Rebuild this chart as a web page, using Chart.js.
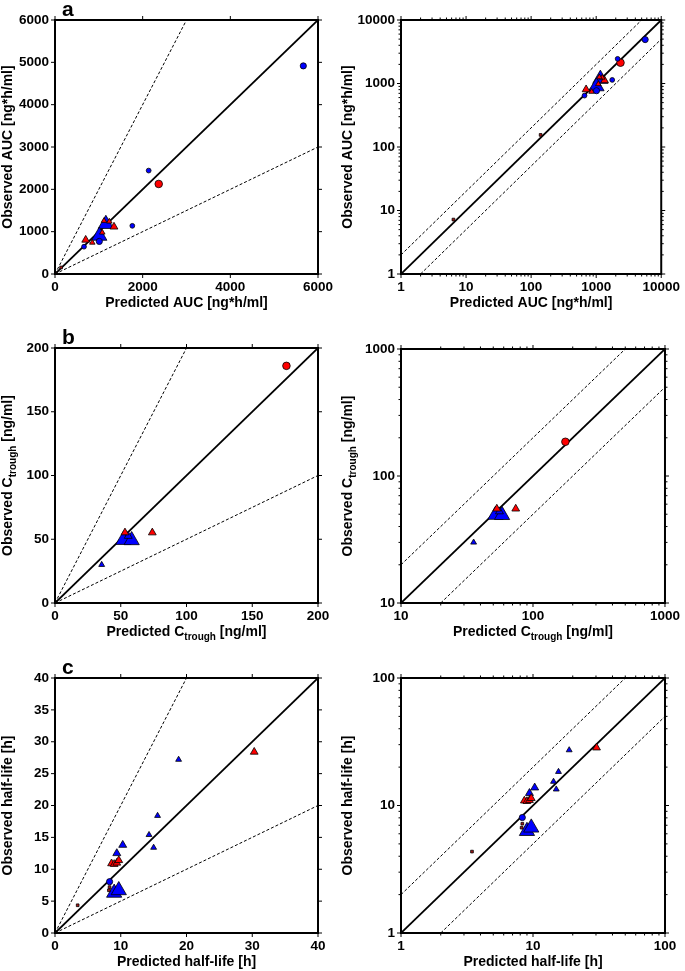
<!DOCTYPE html>
<html>
<head>
<meta charset="utf-8">
<script src="https://cdn.jsdelivr.net/npm/chart.js@4.4.1/dist/chart.umd.min.js"></script>
<style>
  html, body { margin: 0; padding: 0; background: #fff; }
  #wrap { position: relative; width: 685px; height: 971px; overflow: hidden; background: #fff; }
  #wrap canvas { position: absolute; }
</style>
</head>
<body>
<div id="wrap"></div>
<script>
// ---- values ----

// a: AUC [ng*h/ml]
const aucPredicted = [5665, 2137, 2366, 1764, 1160, 1346, 1239, 1118, 1011, 1011, 1079, 700, 851, 662, 6.4, 140];
const aucObserved  = [4916, 2443, 2127, 1138, 1180, 1115, 1240, 1257,  901,  770,  980, 805, 742, 645, 7.2, 155];
const aucGroup     = ['bcM', 'bcS', 'rcM', 'bcS', 'btL', 'rtM', 'rtS', 'rtS', 'btL', 'bcM', 'rtS', 'rtM', 'rtS', 'bcS', 'rdS', 'rdS'];

// b: Ctrough [ng/ml]
const ctroughPredicted = [176, 53.2, 74, 55.7, 52, 58.3, 35.5];
const ctroughObserved  = [186, 55.2, 55.2, 52.5, 49.4, 49.2, 30];
const ctroughGroup     = ['rcM', 'rtM', 'rtM', 'btM', 'btL', 'btL', 'btS'];

// c: half-life [h]
const halfLifePredicted = [30.3, 18.8, 15.6, 14.3, 15.0, 10.3, 9.4, 8.6, 9.0, 9.4, 9.7, 8.3, 8.3, 8.2, 9.0, 9.7, 3.45];
const halfLifeObserved  = [28.4, 27.2, 18.4, 15.4, 13.4, 13.8, 12.5, 10.9, 10.8, 11.0, 11.4, 8.05, 7.2, 6.7, 6.3, 6.7, 4.35];
const halfLifeGroup     = ['rtM', 'btS', 'btS', 'btS', 'btS', 'btM', 'btM', 'rtM', 'rtM', 'rtM', 'rtM', 'bcM', 'rdS', 'rdS', 'btL', 'btL', 'rdS'];

// tick labels
const aucTicksX = [0, 2000, 4000, 6000];
const aucTicksY = [0, 1000, 2000, 3000, 4000, 5000, 6000];
const aucLogTicks = [1, 10, 100, 1000, 10000];
const ctroughTicks = [0, 50, 100, 150, 200];
const ctroughLogTicks = [10, 100, 1000];
const halfLifeTicksX = [0, 10, 20, 30, 40];
const halfLifeTicksY = [0, 5, 10, 15, 20, 25, 30, 35, 40];
const halfLifeLogTicks = [1, 10, 100];

// axis titles (sub = subscript part)
const aucXTitle = [{ t: 'Predicted AUC [ng*h/ml]' }];
const aucYTitle = [{ t: 'Observed AUC [ng*h/ml]' }];
const ctroughXTitle = [{ t: 'Predicted C' }, { t: 'trough', sub: true }, { t: ' [ng/ml]' }];
const ctroughYTitle = [{ t: 'Observed C' }, { t: 'trough', sub: true }, { t: ' [ng/ml]' }];
const halfLifeXTitle = [{ t: 'Predicted half-life [h]' }];
const halfLifeYTitle = [{ t: 'Observed half-life [h]' }];

// marker look per group
const MARKERS = {
  bcS: { color: '#0000ff', shape: 'circle',   r: 2.4 },
  bcM: { color: '#0000ff', shape: 'circle',   r: 3.1 },
  rcM: { color: '#ff0000', shape: 'circle',   r: 3.8 },
  btS: { color: '#0000ff', shape: 'triangle', r: 3.4 },
  btM: { color: '#0000ff', shape: 'triangle', r: 4.6 },
  btL: { color: '#0000ff', shape: 'triangle', r: 8.8 },
  rtS: { color: '#ff0000', shape: 'triangle', r: 3.2 },
  rtM: { color: '#ff0000', shape: 'triangle', r: 4.5 },
  rdS: { color: '#a81818', shape: 'rect',     r: 1.9 }
};

const FONT = "'Liberation Sans', Arial, sans-serif";

function drawTitle(ctx, parts, x, y, rotate) {
  ctx.save();
  ctx.translate(x, y);
  if (rotate) ctx.rotate(-Math.PI / 2);
  ctx.textBaseline = 'middle';
  ctx.textAlign = 'left';
  ctx.fillStyle = '#000';
  const fontOf = p => p.sub ? 'bold 10px ' + FONT : 'bold 14px ' + FONT;
  let total = 0;
  parts.forEach(p => { ctx.font = fontOf(p); total += ctx.measureText(p.t).width; });
  let cx = -total / 2;
  parts.forEach(p => {
    ctx.font = fontOf(p);
    ctx.fillText(p.t, cx, p.sub ? 5 : 0);
    cx += ctx.measureText(p.t).width;
  });
  ctx.restore();
}

// frame, ticks on all four sides, titles, panel letter
const framePlugin = {
  id: 'frame',
  afterDraw(chart, args, opts) {
    const { ctx, chartArea: a } = chart;
    const xs = chart.scales.x, ys = chart.scales.y;
    ctx.save();
    ctx.strokeStyle = '#000';

    const marks = (scale) => {
      const major = scale.ticks.map(t => t.value);
      const minor = [];
      if (scale.type === 'logarithmic') {
        for (let d = scale.min; d < scale.max; d *= 10) {
          for (let k = 2; k <= 9; k++) minor.push(k * d);
        }
      }
      return { major, minor };
    };

    ctx.lineWidth = 1;
    const mx = marks(xs), my = marks(ys);
    const tickX = (v, len) => {
      const p = xs.getPixelForValue(v);
      ctx.beginPath();
      ctx.moveTo(p, a.bottom); ctx.lineTo(p, a.bottom + len);
      ctx.moveTo(p, a.top); ctx.lineTo(p, a.top - len);
      ctx.stroke();
    };
    const tickY = (v, len) => {
      const p = ys.getPixelForValue(v);
      ctx.beginPath();
      ctx.moveTo(a.left, p); ctx.lineTo(a.left - len, p);
      ctx.moveTo(a.right, p); ctx.lineTo(a.right + len, p);
      ctx.stroke();
    };
    mx.major.forEach(v => tickX(v, 4));
    mx.minor.forEach(v => tickX(v, 2.5));
    my.major.forEach(v => tickY(v, 4));
    my.minor.forEach(v => tickY(v, 2.5));

    ctx.lineWidth = 2;
    ctx.strokeRect(a.left, a.top, a.right - a.left, a.bottom - a.top);

    drawTitle(ctx, opts.xTitle, (a.left + a.right) / 2, a.bottom + 29, false);
    drawTitle(ctx, opts.yTitle, 8, (a.top + a.bottom) / 2, true);

    if (opts.letter) {
      ctx.font = 'bold 21px ' + FONT;
      ctx.fillStyle = '#000';
      ctx.textAlign = 'left';
      ctx.textBaseline = 'alphabetic';
      ctx.fillText(opts.letter, a.left + 7, a.top - 4);
    }
    ctx.restore();
  }
};

const PANELS = [
  { left: 0,   top: 0,   w: 340, h: 330, area: [55, 318, 20, 274], log: false,
    xTicks: aucTicksX, yTicks: aucTicksY, pred: aucPredicted, obs: aucObserved, group: aucGroup,
    letter: 'a', xTitle: aucXTitle, yTitle: aucYTitle },
  { left: 340, top: 0,   w: 345, h: 330, area: [61, 325, 20, 274], log: true,
    xTicks: aucLogTicks, yTicks: aucLogTicks, pred: aucPredicted, obs: aucObserved, group: aucGroup,
    letter: '', xTitle: aucXTitle, yTitle: aucYTitle },
  { left: 0,   top: 310, w: 340, h: 340, area: [55, 318, 38, 293], log: false,
    xTicks: ctroughTicks, yTicks: ctroughTicks, pred: ctroughPredicted, obs: ctroughObserved, group: ctroughGroup,
    letter: 'b', xTitle: ctroughXTitle, yTitle: ctroughYTitle },
  { left: 340, top: 310, w: 345, h: 340, area: [61, 325, 39, 293], log: true,
    xTicks: ctroughLogTicks, yTicks: ctroughLogTicks, pred: ctroughPredicted, obs: ctroughObserved, group: ctroughGroup,
    letter: '', xTitle: ctroughXTitle, yTitle: ctroughYTitle },
  { left: 0,   top: 640, w: 340, h: 331, area: [55, 318, 38, 293], log: false,
    xTicks: halfLifeTicksX, yTicks: halfLifeTicksY, pred: halfLifePredicted, obs: halfLifeObserved, group: halfLifeGroup,
    letter: 'c', xTitle: halfLifeXTitle, yTitle: halfLifeYTitle },
  { left: 340, top: 640, w: 345, h: 331, area: [61, 325, 38, 293], log: true,
    xTicks: halfLifeLogTicks, yTicks: halfLifeLogTicks, pred: halfLifePredicted, obs: halfLifeObserved, group: halfLifeGroup,
    letter: '', xTitle: halfLifeXTitle, yTitle: halfLifeYTitle }
];

function buildDatasets(p) {
  const sets = [];
  Object.keys(MARKERS).forEach(key => {
    const pts = [];
    p.group.forEach((g, i) => { if (g === key) pts.push({ x: p.pred[i], y: p.obs[i] }); });
    if (!pts.length) return;
    const m = MARKERS[key];
    sets.push({
      data: pts,
      pointStyle: m.shape,
      pointRadius: m.r,
      pointHoverRadius: m.r,
      pointBackgroundColor: m.color,
      pointBorderColor: '#000',
      pointBorderWidth: 0.8,
      showLine: false,
      order: m.r
    });
  });
  // unity line and two-fold lines
  const lo = p.xTicks[0], hi = p.xTicks[p.xTicks.length - 1];
  const line = (data, dash, width) => ({
    data, showLine: true, pointRadius: 0, pointHoverRadius: 0,
    borderColor: '#000', borderWidth: width, borderDash: dash, order: 100
  });
  sets.push(line([{ x: lo, y: lo }, { x: hi, y: hi }], [], 1.8));
  sets.push(line([{ x: lo, y: 2 * lo }, { x: hi / 2, y: hi }], [3, 2], 1));
  sets.push(line([{ x: 2 * lo, y: lo }, { x: hi, y: hi / 2 }], [3, 2], 1));
  return sets;
}

function axis(p, ticks, isX) {
  const [l, r, t, b] = p.area;
  return {
    type: p.log ? 'logarithmic' : 'linear',
    position: isX ? 'bottom' : 'left',
    min: ticks[0],
    max: ticks[ticks.length - 1],
    grid: { display: false, drawTicks: false },
    border: { display: false },
    afterBuildTicks: s => { s.ticks = ticks.map(v => ({ value: v })); },
    afterFit: s => { if (isX) s.height = p.h - b; else s.width = l; },
    ticks: {
      color: '#000',
      font: { family: FONT, size: 13.5, weight: 'bold' },
      padding: isX ? 5 : 6,
      maxRotation: 0,
      autoSkip: false,
      callback: v => String(v)
    }
  };
}

const wrap = document.getElementById('wrap');
PANELS.forEach(p => {
  const cv = document.createElement('canvas');
  cv.width = p.w; cv.height = p.h;
  cv.style.left = p.left + 'px'; cv.style.top = p.top + 'px';
  cv.style.width = p.w + 'px'; cv.style.height = p.h + 'px';
  wrap.appendChild(cv);
  const [l, r, t, b] = p.area;
  new Chart(cv.getContext('2d'), {
    type: 'scatter',
    data: { datasets: buildDatasets(p) },
    options: {
      responsive: false,
      animation: false,
      layout: { padding: { left: 0, right: p.w - r, top: t, bottom: 0 } },
      scales: { x: axis(p, p.xTicks, true), y: axis(p, p.yTicks, false) },
      plugins: {
        legend: { display: false },
        tooltip: { enabled: false },
        frame: { letter: p.letter, xTitle: p.xTitle, yTitle: p.yTitle }
      }
    },
    plugins: [framePlugin]
  });
});
</script>
</body>
</html>
